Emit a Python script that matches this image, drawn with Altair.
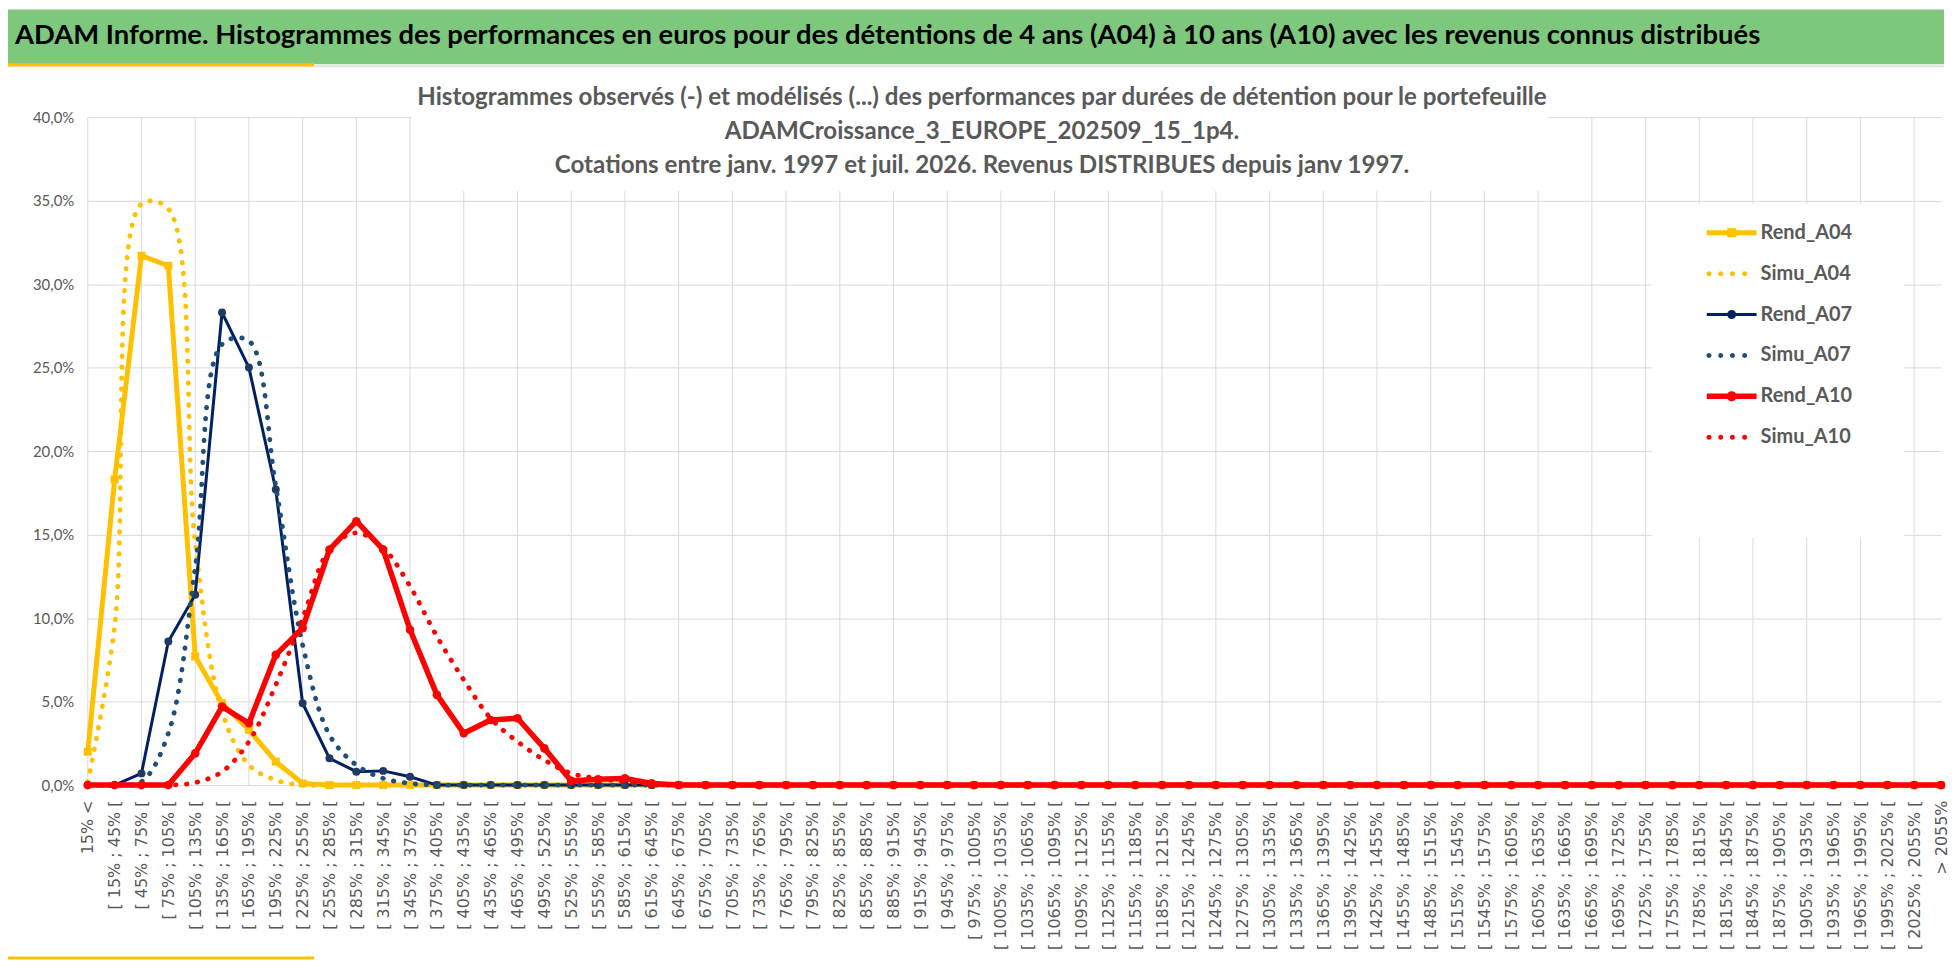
import altair as alt
import pandas as pd

# ---------------- data ----------------
bin_edges_low = list(range(15, 2055, 30))          # 15, 45, ... 2025
categories = ["15% <"] + [f"[ {a}% ; {a + 30}% [" for a in bin_edges_low] + ["> 2055%"]

series_names = ["Rend_A04", "Simu_A04", "Rend_A07", "Simu_A07", "Rend_A10", "Simu_A10"]

rend_a04 = [2.0, 18.3, 31.7, 31.1, 7.7, 4.9, 3.3, 1.4, 0.1, 0.0,
            0.0, 0.0, 0.0, 0.0, 0.0, 0.0, 0.0, 0.0, 0.0, 0.0,
            0.0, 0.0, 0.0, 0.0, 0.0, 0.0, 0.0, 0.0, 0.0, 0.0,
            0.0, 0.0, 0.0, 0.0, 0.0, 0.0, 0.0, 0.0, 0.0, 0.0,
            0.0, 0.0, 0.0, 0.0, 0.0, 0.0, 0.0, 0.0, 0.0, 0.0,
            0.0, 0.0, 0.0, 0.0, 0.0, 0.0, 0.0, 0.0, 0.0, 0.0,
            0.0, 0.0, 0.0, 0.0, 0.0, 0.0, 0.0, 0.0, 0.0, 0.0]
simu_a04 = [0.2, 9.5, 34.8, 34.5, 14.5, 4.4, 1.2, 0.3, 0.0, 0.0,
            0.0, 0.0, 0.0, 0.0, 0.0, 0.0, 0.0, 0.0, 0.0, 0.0,
            0.0, 0.0, 0.0, 0.0, 0.0, 0.0, 0.0, 0.0, 0.0, 0.0,
            0.0, 0.0, 0.0, 0.0, 0.0, 0.0, 0.0, 0.0, 0.0, 0.0,
            0.0, 0.0, 0.0, 0.0, 0.0, 0.0, 0.0, 0.0, 0.0, 0.0,
            0.0, 0.0, 0.0, 0.0, 0.0, 0.0, 0.0, 0.0, 0.0, 0.0,
            0.0, 0.0, 0.0, 0.0, 0.0, 0.0, 0.0, 0.0, 0.0, 0.0]
rend_a07 = [0.0, 0.0, 0.7, 8.6, 11.4, 28.3, 25.0, 17.7, 4.9, 1.6,
            0.8, 0.85, 0.5, 0.0, 0.0, 0.0, 0.0, 0.0, 0.0, 0.0,
            0.0, 0.0, 0.0, 0.0, 0.0, 0.0, 0.0, 0.0, 0.0, 0.0,
            0.0, 0.0, 0.0, 0.0, 0.0, 0.0, 0.0, 0.0, 0.0, 0.0,
            0.0, 0.0, 0.0, 0.0, 0.0, 0.0, 0.0, 0.0, 0.0, 0.0,
            0.0, 0.0, 0.0, 0.0, 0.0, 0.0, 0.0, 0.0, 0.0, 0.0,
            0.0, 0.0, 0.0, 0.0, 0.0, 0.0, 0.0, 0.0, 0.0, 0.0]
simu_a07 = [0.0, 0.0, 0.2, 3.1, 13.0, 26.4, 26.6, 17.9, 8.4, 3.0,
            1.2, 0.4, 0.1, 0.0, 0.0, 0.0, 0.0, 0.0, 0.0, 0.0,
            0.0, 0.0, 0.0, 0.0, 0.0, 0.0, 0.0, 0.0, 0.0, 0.0,
            0.0, 0.0, 0.0, 0.0, 0.0, 0.0, 0.0, 0.0, 0.0, 0.0,
            0.0, 0.0, 0.0, 0.0, 0.0, 0.0, 0.0, 0.0, 0.0, 0.0,
            0.0, 0.0, 0.0, 0.0, 0.0, 0.0, 0.0, 0.0, 0.0, 0.0,
            0.0, 0.0, 0.0, 0.0, 0.0, 0.0, 0.0, 0.0, 0.0, 0.0]
rend_a10 = [0.0, 0.0, 0.0, 0.0, 1.9, 4.7, 3.7, 7.8, 9.4, 14.1,
            15.8, 14.1, 9.3, 5.4, 3.1, 3.9, 4.0, 2.2, 0.25, 0.35,
            0.4, 0.1, 0.0, 0.0, 0.0, 0.0, 0.0, 0.0, 0.0, 0.0,
            0.0, 0.0, 0.0, 0.0, 0.0, 0.0, 0.0, 0.0, 0.0, 0.0,
            0.0, 0.0, 0.0, 0.0, 0.0, 0.0, 0.0, 0.0, 0.0, 0.0,
            0.0, 0.0, 0.0, 0.0, 0.0, 0.0, 0.0, 0.0, 0.0, 0.0,
            0.0, 0.0, 0.0, 0.0, 0.0, 0.0, 0.0, 0.0, 0.0, 0.0]
simu_a10 = [0.0, 0.0, 0.0, 0.0, 0.15, 0.8, 2.6, 6.0, 10.0, 14.1,
            15.1, 14.2, 11.9, 8.9, 6.3, 4.0, 2.6, 1.5, 0.7, 0.4,
            0.2, 0.1, 0.0, 0.0, 0.0, 0.0, 0.0, 0.0, 0.0, 0.0,
            0.0, 0.0, 0.0, 0.0, 0.0, 0.0, 0.0, 0.0, 0.0, 0.0,
            0.0, 0.0, 0.0, 0.0, 0.0, 0.0, 0.0, 0.0, 0.0, 0.0,
            0.0, 0.0, 0.0, 0.0, 0.0, 0.0, 0.0, 0.0, 0.0, 0.0,
            0.0, 0.0, 0.0, 0.0, 0.0, 0.0, 0.0, 0.0, 0.0, 0.0]

y_ticks = [0.0, 0.05, 0.10, 0.15, 0.20, 0.25, 0.30, 0.35, 0.40]

header_text = ("ADAM Informe. Histogrammes des performances en euros pour des détentions "
               "de 4 ans (A04) à 10 ans (A10) avec les revenus connus distribués")
title_lines = [
    "Histogrammes observés (-) et modélisés (...) des performances par durées de détention pour le portefeuille",
    "ADAMCroissance_3_EUROPE_202509_15_1p4.",
    "Cotations entre janv. 1997 et juil. 2026. Revenus DISTRIBUES depuis janv 1997.",
]

# ---------------- styles ----------------
GOLD, NAVY, BLUE, RED = "#FFC000", "#002060", "#1F4E79", "#FF0000"
series_colors = [GOLD, GOLD, NAVY, BLUE, RED, RED]
GRID = "#D9D9D9"
TXT = "#595959"


def dots(xs, r=0.1):
    return " ".join(f"M{x - r},0A{r},{r},0,1,1,{x + r},0A{r},{r},0,1,1,{x - r},0Z" for x in xs)


def circ(r):
    return f"M{-r},0A{r},{r},0,1,1,{r},0A{r},{r},0,1,1,{-r},0Z"


dot_x = [-0.91, -0.44, 0.03, 0.52]
legend_paths = [
    "M-1,-0.1H1V0.1H-1Z M-0.18,-0.18H0.18V0.18H-0.18Z",
    dots(dot_x),
    "M-1,-0.06H1V0.06H-1Z " + circ(0.18),
    dots(dot_x),
    "M-1,-0.11H1V0.11H-1Z " + circ(0.2),
    dots(dot_x),
]

rows = []
for name, vals in zip(series_names, [rend_a04, simu_a04, rend_a07, simu_a07, rend_a10, simu_a10]):
    for c, v in zip(categories, vals):
        rows.append({"cat": c, "series": name, "value": v / 100.0})
df = pd.DataFrame(rows)
grid_df = pd.DataFrame({"cat": categories[::2]})
one = pd.DataFrame({"k": [0]})

W, H = 1859, 670

X = alt.X("cat:N", sort=None,
          scale=alt.Scale(type="point", padding=0, domain=categories),
          axis=alt.Axis(title=None, grid=False, domain=False, ticks=False,
                        labelAngle=270, labelAlign="right", labelBaseline="middle",
                        labelPadding=15, labelFont="DejaVu Sans", labelFontSize=16,
                        labelColor=TXT, labelOverlap=False, labelLimit=400))
Y = alt.Y("value:Q", scale=alt.Scale(domain=[0, 0.4], nice=False),
          axis=alt.Axis(title=None, values=y_ticks, grid=True, gridColor=GRID, gridWidth=1,
                        domain=False, ticks=False, labelPadding=14, labelFont="Lato",
                        labelFontSize=15, labelColor=TXT,
                        labelExpr="replace(format(datum.value, '.1%'), '.', ',')"))

layers = []

# vertical gridlines every second category
layers.append(alt.Chart(grid_df).mark_rule(color=GRID, strokeWidth=1).encode(x=X))


def deco_rect(x1, x2, y1, y2, color):
    return alt.Chart(one).mark_rect(color=color, opacity=1).encode(
        x=alt.value(x1), x2=alt.value(x2), y=alt.value(y1), y2=alt.value(y2))


# white boxes of the title and legend over the grid
layers.append(deco_rect(325, 1465, -45, 74, "white"))
layers.append(deco_rect(1569, 1822, 87, 422, "white"))
# header band and frame details
layers.append(deco_rect(-80, 1862, -108, -53, "#7DC87D"))
layers.append(deco_rect(-80, 1862, -52, -50, "#E3E3E3"))
layers.append(deco_rect(-80, 227, -54, -51, GOLD))
layers.append(deco_rect(-80, 227, 842, 845, GOLD))


def line_layer(name, color, width, dotted):
    kw = dict(color=color, strokeWidth=width, strokeCap="round", strokeJoin="round")
    if dotted:
        kw.update(strokeDash=[0.5, 10.5], interpolate="catmull-rom")
    return alt.Chart(df).transform_filter(alt.datum.series == name).mark_line(**kw).encode(x=X, y=Y)


def point_layer(name, color, shape, size):
    return alt.Chart(df).transform_filter(alt.datum.series == name).mark_point(
        filled=True, shape=shape, size=size, color=color, opacity=1, strokeWidth=0).encode(x=X, y=Y)


layers += [
    line_layer("Rend_A04", GOLD, 5, False), point_layer("Rend_A04", GOLD, "square", 64),
    line_layer("Simu_A04", GOLD, 4.8, True),
    line_layer("Rend_A07", NAVY, 3, False), point_layer("Rend_A07", "#1F3864", "circle", 64),
    line_layer("Simu_A07", BLUE, 4.8, True),
    line_layer("Rend_A10", RED, 5.5, False), point_layer("Rend_A10", RED, "circle", 75),
    line_layer("Simu_A10", RED, 4.8, True),
]

leg = alt.Legend(title=None, orient="none", legendX=1624, legendY=91, padding=0,
                 symbolSize=2500, symbolStrokeWidth=0, symbolOpacity=1,
                 labelFont="Lato", labelFontSize=20, labelFontWeight="bold",
                 labelColor=TXT, labelOffset=4, rowPadding=6, labelLimit=300)
layers.append(
    alt.Chart(df).transform_filter("false").mark_point(filled=True, opacity=1).encode(
        x=X, y=Y,
        color=alt.Color("series:N", scale=alt.Scale(domain=series_names, range=series_colors), legend=leg),
        shape=alt.Shape("series:N", scale=alt.Scale(domain=series_names, range=legend_paths), legend=leg),
    )
)


def text_layer(txt, x, y, size, color, align="center"):
    return alt.Chart(pd.DataFrame({"t": [txt]})).mark_text(
        align=align, baseline="alphabetic", font="Lato", fontWeight="bold",
        fontSize=size, color=color).encode(x=alt.value(x), y=alt.value(y), text="t:N")


layers.append(text_layer(header_text, -73, -73, 27.5, "black", align="left"))
layers.append(text_layer(title_lines[0], 897, -12, 24.2, TXT))
layers.append(text_layer(title_lines[1], 897, 22, 24.2, TXT))
layers.append(text_layer(title_lines[2], 897, 56, 24.2, TXT))

chart = alt.layer(*layers).properties(width=W, height=H, padding=0, background="white").configure_view(stroke=None)

chart.save("out.html", embed_options={"renderer": "svg", "actions": False})
